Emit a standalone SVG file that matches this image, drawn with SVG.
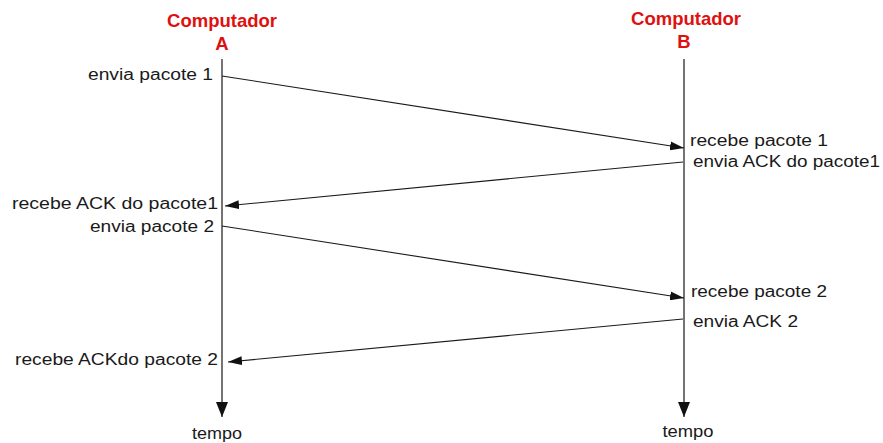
<svg xmlns="http://www.w3.org/2000/svg" width="883" height="443" viewBox="0 0 883 443">
<style>
.title{font-family:"Liberation Sans",Arial,sans-serif;font-weight:bold;font-size:18.5px;fill:#e01010;text-anchor:middle}
.lbl{font-family:"Liberation Sans",Arial,sans-serif;font-size:16px;fill:#1a1a1a}
.mid{text-anchor:middle}
.life{stroke:#2a2a2a;stroke-width:1.3;fill:none}
.msg{stroke:#1a1a1a;stroke-width:1.1;fill:none;marker-end:url(#ah)}
</style>
<defs>
<marker id="ah" markerUnits="userSpaceOnUse" markerWidth="15" markerHeight="9" refX="14" refY="4.5" orient="auto">
<path d="M0,0 L14,4.5 L0,9 z" fill="#111"/>
</marker>
<marker id="ahv" markerUnits="userSpaceOnUse" markerWidth="16" markerHeight="12" refX="15" refY="6" orient="auto">
<path d="M0,0 L15,6 L0,12 z" fill="#111"/>
</marker>
</defs>
<rect width="883" height="443" fill="#fff"/>
<g id="computadorA">
<text class="title" x="222" y="27">Computador</text>
<text class="title" x="222" y="50">A</text>
<line class="life" x1="222" y1="59" x2="222" y2="417" marker-end="url(#ahv)"/>
<text class="lbl mid" x="217" y="438.5" textLength="50" lengthAdjust="spacingAndGlyphs">tempo</text>
</g>
<g id="computadorB">
<text class="title" x="686" y="25">Computador</text>
<text class="title" x="684" y="48">B</text>
<line class="life" x1="684" y1="59" x2="684" y2="417" marker-end="url(#ahv)"/>
<text class="lbl mid" x="688" y="437" textLength="51" lengthAdjust="spacingAndGlyphs">tempo</text>
</g>
<g id="labelsA">
<text class="lbl" x="88" y="80" textLength="125" lengthAdjust="spacingAndGlyphs">envia pacote 1</text>
<text class="lbl" x="12" y="209" textLength="206" lengthAdjust="spacingAndGlyphs">recebe ACK do pacote1</text>
<text class="lbl" x="90" y="232" textLength="124" lengthAdjust="spacingAndGlyphs">envia pacote 2</text>
<text class="lbl" x="15" y="365" textLength="203" lengthAdjust="spacingAndGlyphs">recebe ACKdo pacote 2</text>
</g>
<g id="labelsB">
<text class="lbl" x="690" y="146" textLength="138" lengthAdjust="spacingAndGlyphs">recebe pacote 1</text>
<text class="lbl" x="693" y="167" textLength="187" lengthAdjust="spacingAndGlyphs">envia ACK do pacote1</text>
<text class="lbl" x="691" y="297" textLength="136" lengthAdjust="spacingAndGlyphs">recebe pacote 2</text>
<text class="lbl" x="693" y="327" textLength="105" lengthAdjust="spacingAndGlyphs">envia ACK 2</text>
</g>
<g id="connectors">
<line class="msg" x1="222" y1="76" x2="684" y2="148"/>
<line class="msg" x1="683" y1="162" x2="225" y2="206"/>
<line class="msg" x1="222" y1="226" x2="684" y2="298"/>
<line class="msg" x1="683" y1="319" x2="228" y2="362"/>
</g>
</svg>
